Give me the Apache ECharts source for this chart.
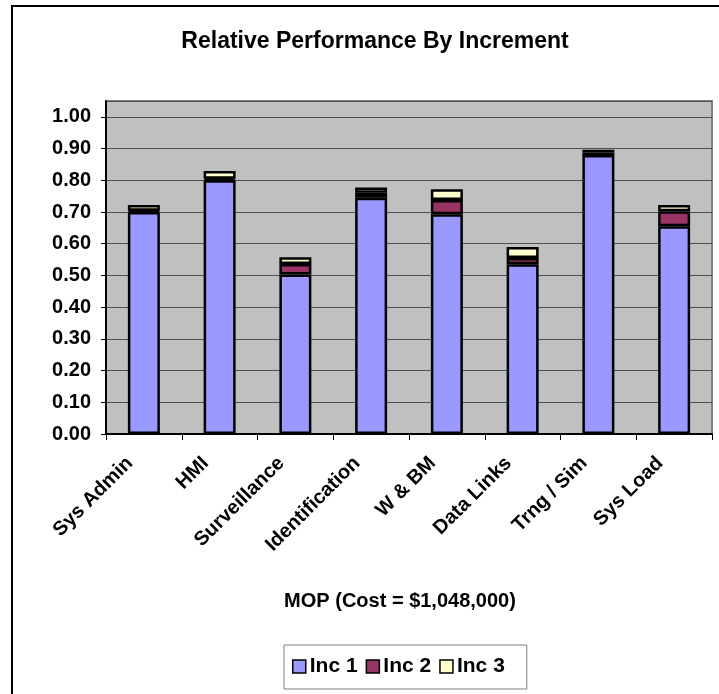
<!DOCTYPE html>
<html>
<head>
<meta charset="utf-8">
<script src="https://cdn.jsdelivr.net/npm/echarts@6/dist/echarts.min.js"></script>
<style>
html,body{margin:0;padding:0;background:#fff;}
#c{width:719px;height:694px;}
</style>
</head>
<body>
<div id="c"></div>
<script>
const categories = ['Sys Admin','HMI','Surveillance','Identification','W & BM','Data Links','Trng / Sim','Sys Load'];
const inc1 = [0.700, 0.800, 0.503, 0.745, 0.693, 0.535, 0.880, 0.655];
const inc2 = [0.004, 0.005, 0.033, 0.016, 0.045, 0.020, 0.008, 0.047];
const inc3 = [0.018, 0.024, 0.021, 0.016, 0.034, 0.035, 0.008, 0.020];
const seriesNames = ['Inc 1','Inc 2','Inc 3'];
const seriesColors = ['#9999FF','#993366','#FFFFCC'];
const yTicks = ['0.00','0.10','0.20','0.30','0.40','0.50','0.60','0.70','0.80','0.90','1.00'];

const FONT = 'Liberation Sans';
const chart = echarts.init(document.getElementById('c'), null, {renderer:'canvas'});
const dataSets = [inc1, inc2, inc3];
chart.setOption({
  animation:false,
  backgroundColor:'#ffffff',
  title:{
    text:'Relative Performance By Increment',
    left:370, top:25, textAlign:'center',
    textStyle:{fontFamily:FONT, fontWeight:'bold', fontSize:23, color:'#000'}
  },
  legend:{
    data:seriesNames,
    left:284, top:645,
    itemWidth:13, itemHeight:13, itemGap:8,
    padding:[11,22,12,8],
    borderColor:'#808080', borderWidth:1,
    icon:'rect',
    selectedMode:false,
    itemStyle:{borderColor:'#000', borderWidth:1.5},
    textStyle:{fontFamily:FONT, fontWeight:'bold', fontSize:21, color:'#000', padding:[0,0,0,-1]}
  },
  grid:{
    left:106, right:7, top:101, bottom:260,
    show:true, backgroundColor:'#C0C0C0', borderColor:'#808080', borderWidth:2
  },
  xAxis:{
    type:'category',
    data:categories,
    name:'MOP (Cost = $1,048,000)',
    nameLocation:'middle',
    nameGap:157,
    nameTextStyle:{fontFamily:FONT, fontWeight:'bold', fontSize:20, color:'#000', padding:[0,18,0,0]},
    axisLine:{lineStyle:{color:'#000', width:2}},
    axisTick:{show:true, inside:false, length:6, alignWithLabel:false, lineStyle:{color:'#000', width:1}},
    axisLabel:{rotate:45, margin:12, interval:0, fontFamily:FONT, fontWeight:'bold', fontSize:20, color:'#000', padding:[0,20,0,0]}
  },
  yAxis:{
    type:'value',
    min:0, max:1.05, interval:0.1,
    axisLine:{show:true, lineStyle:{color:'#000', width:2}},
    axisTick:{show:true, length:5, lineStyle:{color:'#000', width:1}},
    splitLine:{show:true, lineStyle:{color:'#505050', width:1}},
    axisLabel:{
      margin:15, showMaxLabel:false,
      fontFamily:FONT, fontWeight:'bold', fontSize:20, color:'#000',
      formatter:function(v){ const i = Math.round(v*10); return (i>=0 && i<yTicks.length && Math.abs(v*10-i)<1e-6) ? yTicks[i] : ''; }
    }
  },
  series: seriesNames.map(function(n, k){
    return {
      name:n, type:'bar', stack:'all',
      barWidth:32,
      data:dataSets[k],
      itemStyle:{color:seriesColors[k], borderColor:'#000', borderWidth:2.5}
    };
  }),
  graphic:[{
    type:'rect', z:100, silent:true,
    shape:{x:12, y:6, width:760, height:760},
    style:{fill:'none', stroke:'#000', lineWidth:2}
  }]
});
</script>
</body>
</html>
